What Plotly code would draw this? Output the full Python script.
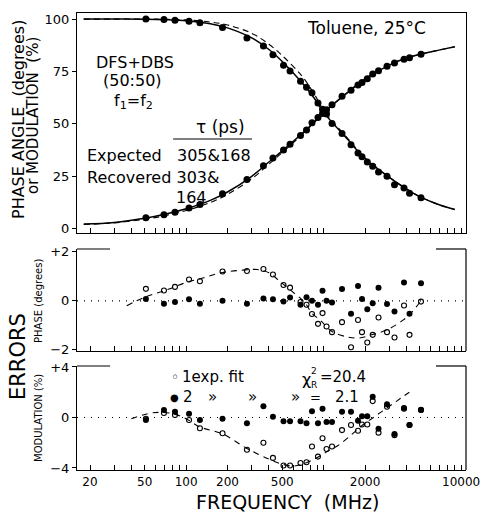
import plotly.graph_objects as go

# ---------------- data ----------------
FREQ = [51, 69, 83, 105, 126, 184, 277, 365, 428, 511, 570, 679, 751, 823, 910,
        982, 1050, 1151, 1361, 1582, 1779, 1902, 2078, 2275, 2508, 2891, 3278,
        3843, 4214, 5108]
PHASE = [5.2, 6.6, 7.9, 9.9, 11.6, 16.7, 23.5, 30.0, 33.7, 37.6, 40.3, 44.5, 47.1,
         50.5, 53.0, 55.0, 56.8, 59.1, 63.2, 66.0, 68.5, 69.8, 71.5, 73.8, 75.4,
         77.5, 79.0, 80.8, 81.5, 83.2]
MODUL = [100.0, 99.8, 99.5, 99.0, 98.3, 96.0, 91.0, 87.1, 83.0, 78.0, 75.2, 70.3,
         67.5, 64.8, 60.0, 57.0, 54.7, 50.2, 45.4, 40.1, 36.1, 34.3, 31.8, 29.8,
         27.0, 25.0, 21.0, 19.4, 16.9, 14.8]

CURVE_F = [18, 30, 50, 70, 100, 150, 200, 300, 400, 500, 700, 850, 1000, 1500,
           2000, 3000, 4000, 5000, 7000, 9000]
PHASE_FIT2 = [2.2, 3.0, 5.0, 6.9, 9.5, 13.5, 17.5, 25.0, 31.8, 37.1, 45.5, 50.8,
              55.3, 65.0, 71.3, 78.0, 81.4, 83.2, 85.3, 86.8]
PHASE_FIT1 = [2.0, 2.8, 4.5, 6.2, 8.7, 12.5, 16.4, 23.8, 30.8, 36.3, 45.0, 50.5,
              55.3, 65.2, 71.5, 78.2, 81.5, 83.2, 85.3, 86.8]
MOD_FIT2 = [100, 100, 99.9, 99.7, 99.2, 97.8, 95.8, 91.0, 85.5, 79.8, 69.5, 62.5,
            55.5, 42.5, 33.5, 24.5, 19.0, 15.3, 11.3, 9.2]
MOD_FIT1 = [100, 100, 100, 99.9, 99.6, 98.6, 97.2, 93.2, 88.0, 82.6, 72.6, 64.5,
            56.5, 43.0, 33.8, 24.6, 19.0, 15.3, 11.3, 9.2]

PH_ERR1 = [0.49, 0.42, 0.57, 0.87, 0.80, 1.20, 1.22, 1.30, 1.08, 0.65, 0.54, -0.05,
           -0.16, -0.54, -0.94, -0.50, -1.05, -1.28, -0.87, -1.90, -0.78, -1.28,
           -1.70, -1.39, -0.68, -1.28, -1.50, -0.19, -1.39, -0.03]
PH_ERR2 = [0.08, -0.12, -0.05, 0.07, -0.12, 0.0, -0.12, 0.10, 0.07, -0.03, 0.14,
           -0.16, 0.15, 0.0, -0.16, 0.41, 0.0, -0.07, 0.48, -0.53, 0.61, 0.08,
           -0.34, -0.10, 0.54, -0.13, -0.44, 0.75, -0.53, 0.72]
MOD_ERR1 = [-0.1, 0.35, 0.2, -0.2, -0.85, -1.25, -2.55, -2.0, -3.2, -3.8, -3.8,
            -3.6, -3.55, -2.3, -3.1, -1.65, -2.5, -2.3, -1.0, -0.6, -1.05, -0.55,
            -0.55, 1.3, -1.2, 0.85, -1.4, 0.7, -0.6, 0.6]
MOD_ERR2 = [-0.2, 0.6, 0.45, 0.3, -0.2, -0.1, -0.45, 0.9, 0.05, -0.3, -0.3, -0.3,
            -0.45, 0.5, -0.45, 0.7, -0.35, -0.35, 0.45, 0.45, -0.25, 0.1, 0.1,
            1.65, -0.9, 1.05, -1.3, 0.75, -0.6, 0.6]

PH_TREND_F = [37, 50, 70, 100, 130, 180, 250, 330, 400, 480, 570, 680, 750, 820,
              950, 1150, 1500, 1800, 2200, 2900, 3800, 4400, 5100]
PH_TREND = [-0.2, 0.15, 0.42, 0.75, 0.92, 1.15, 1.25, 1.28, 1.15, 0.8, 0.45, 0.1,
            -0.16, -0.5, -0.8, -1.25, -1.48, -1.52, -1.4, -1.18, -0.78, -0.45, 0.0]
MOD_TREND_F = [40, 55, 65, 80, 100, 126, 184, 277, 400, 500, 600, 700, 800, 940,
               1100, 1280, 1600, 1900, 2300, 2800, 3400, 4200]
MOD_TREND = [-0.1, 0.35, 0.4, 0.3, -0.1, -0.75, -1.3, -2.45, -3.3, -3.7, -3.85,
             -3.7, -3.45, -3.05, -2.6, -2.2, -1.35, -0.65, 0.0, 0.65, 1.3, 2.0]

X_TICKS = [20, 30, 40, 50, 60, 70, 80, 90, 100, 200, 300, 400, 500, 600, 700, 800,
           900, 1000, 2000, 3000, 4000, 5000, 6000, 7000, 8000, 9000, 10000]
X_LABELED = {20: "20", 50: "50", 100: "100", 200: "200", 500: "500",
             2000: "2000", 10000: "10000"}

FONT = "DejaVu Sans"
BLACK = "black"

fig = go.Figure()

# --- top panel ---
for yvals in (PHASE_FIT2, MOD_FIT2):
    fig.add_trace(go.Scatter(x=CURVE_F, y=yvals, mode="lines", line_shape="spline",
                             line=dict(color=BLACK, width=1.5), xaxis="x", yaxis="y"))
for yvals in (PHASE_FIT1, MOD_FIT1):
    fig.add_trace(go.Scatter(x=CURVE_F, y=yvals, mode="lines", line_shape="spline",
                             line=dict(color=BLACK, width=1.1, dash="6px,4px"),
                             xaxis="x", yaxis="y"))
for yvals in (PHASE, MODUL):
    fig.add_trace(go.Scatter(x=FREQ, y=yvals, mode="markers",
                             marker=dict(color=BLACK, size=7), xaxis="x", yaxis="y"))

# --- middle panel (phase errors) ---
fig.add_trace(go.Scatter(x=PH_TREND_F, y=PH_TREND, mode="lines", line_shape="spline",
                         line=dict(color=BLACK, width=1.1, dash="6px,5px"),
                         xaxis="x2", yaxis="y2"))
fig.add_trace(go.Scatter(x=FREQ, y=PH_ERR1, mode="markers",
                         marker=dict(symbol="circle-open", color=BLACK, size=5,
                                     line=dict(width=1.1)),
                         xaxis="x2", yaxis="y2"))
fig.add_trace(go.Scatter(x=FREQ, y=PH_ERR2, mode="markers",
                         marker=dict(color=BLACK, size=6), xaxis="x2", yaxis="y2"))

# --- bottom panel (modulation errors) ---
fig.add_trace(go.Scatter(x=MOD_TREND_F, y=MOD_TREND, mode="lines", line_shape="spline",
                         line=dict(color=BLACK, width=1.1, dash="6px,5px"),
                         xaxis="x3", yaxis="y3"))
fig.add_trace(go.Scatter(x=FREQ, y=MOD_ERR1, mode="markers",
                         marker=dict(symbol="circle-open", color=BLACK, size=5,
                                     line=dict(width=1.1)),
                         xaxis="x3", yaxis="y3"))
fig.add_trace(go.Scatter(x=FREQ, y=MOD_ERR2, mode="markers",
                         marker=dict(color=BLACK, size=6), xaxis="x3", yaxis="y3"))

XR = [1.2065, 4.0355]
def xaxis(anchor, labels, mirror):
    return dict(type="log", range=XR, anchor=anchor, showline=True, linecolor=BLACK,
                linewidth=1.2, mirror=mirror, ticks="inside", ticklen=5,
                tickcolor=BLACK, tickvals=X_TICKS, automargin=False,
                ticktext=[X_LABELED.get(v, "") for v in X_TICKS],
                showticklabels=labels, showgrid=False, zeroline=False,
                ticklabeloverflow="allow",
                tickfont=dict(family=FONT, size=12, color=BLACK))

def yaxis(anchor, domain, rng, vals, text, mirror):
    return dict(domain=domain, range=rng, anchor=anchor, showline=True, linecolor=BLACK,
                linewidth=1.2, mirror=mirror, ticks="outside", ticklen=4,
                tickcolor=BLACK, tickvals=vals, ticktext=text, showgrid=False,
                zeroline=False, automargin=False,
                tickfont=dict(family=FONT, size=13, color=BLACK))

TOP_D = [0.5186, 1.0]
MID_D = [0.2604, 0.4836]
BOT_D = [0.0, 0.2276]

fig.update_layout(
    template="none",
    width=480, height=515, showlegend=False,
    margin=dict(l=77, r=14, t=13, b=45, pad=0),
    paper_bgcolor="white", plot_bgcolor="white",
    font=dict(family=FONT, color=BLACK),
    xaxis=xaxis("y", False, True),
    xaxis2=xaxis("y2", False, False),
    xaxis3=xaxis("y3", True, False),
    yaxis=yaxis("x", TOP_D, [-2.05, 102.9], [0, 25, 50, 75, 100],
                ["0", "25", "50", "75", "100"], True),
    yaxis2=yaxis("x2", MID_D, [-2.05, 2.12], [-2, 0, 2], ["\u22122", "0", "+2"], False),
    yaxis3=yaxis("x3", BOT_D, [-4.16, 4.08], [-4, 0, 4], ["\u22124", "0", "+4"], False),
)

shapes = []
# right borders, top stubs and dotted zero lines of the error panels
for yr, d in (("y2", MID_D), ("y3", BOT_D)):
    shapes.append(dict(type="line", xref="paper", yref="paper", x0=1, x1=1,
                       y0=d[0], y1=d[1], line=dict(color=BLACK, width=1.2)))
    shapes.append(dict(type="line", xref="paper", yref="paper", x0=0, x1=0.085,
                       y0=d[1], y1=d[1], line=dict(color=BLACK, width=1.2)))
    shapes.append(dict(type="line", xref="paper", yref="paper", x0=0.923, x1=1,
                       y0=d[1], y1=d[1], line=dict(color=BLACK, width=1.2)))
    shapes.append(dict(type="line", xref=yr.replace("y", "x") + " domain", yref=yr,
                       x0=0, x1=1, y0=0, y1=0,
                       line=dict(color=BLACK, width=1.2, dash="1px,6px")))
# rule under tau (ps)
shapes.append(dict(type="line", xref="paper", yref="paper", x0=0.247, x1=0.450,
                   y0=0.7243, y1=0.7243, line=dict(color=BLACK, width=1.2)))
fig.update_layout(shapes=shapes)

def px(x):
    return (x - 77) / 389.0

def py(y):
    return (470 - y) / 457.0

def note(text, x, y, size=17, xanchor="center", angle=0):
    fig.add_annotation(text=text, xref="paper", yref="paper", x=px(x), y=py(y),
                       showarrow=False, xanchor=xanchor, yanchor="middle",
                       textangle=angle, borderpad=0,
                       font=dict(family=FONT, size=size, color=BLACK))

note("Toluene, 25°C", 366, 28)
note("DFS+DBS", 135, 62, size=16)
note("(50:50)", 132, 81, size=16)
note("f<sub>1</sub>=f<sub>2</sub>", 133, 102, size=16)
note("\u03c4 (ps)", 220, 127)
note("Expected", 86, 155, xanchor="left", size=16)
note("305&168", 176, 155, xanchor="left", size=16)
note("Recovered 303&", 86, 177, xanchor="left", size=16)
note("164", 191, 197, size=16)

note("PHASE ANGLE  (degrees)", 18, 120, size=16, angle=-90)
note("or MODULATION  (%)", 33, 116, size=15, angle=-90)
note("ERRORS", 18, 357, size=21, angle=-90)
note("PHASE (degrees)", 38, 301, size=10, angle=-90)
note("MODULATION (%)", 38, 418, size=10, angle=-90)
note("FREQUENCY  (MHz)", 287, 502, size=19)

# legend text of the bottom panel
note("\u25e6", 175, 377, size=14)
note("1exp. fit", 181, 377, size=15, xanchor="left")
note("\u03c7", 306, 379, size=16)
note("2", 314, 371, size=9)
note("R", 314, 385, size=9)
note("=20.4", 319, 377, size=15, xanchor="left")
note("\u25cf", 174, 397, size=10)
note("2", 188, 397, size=15)
note("\u00bb", 212, 397, size=15)
note("\u00bb", 252, 397, size=15)
note("\u00bb", 295, 397, size=15)
note("=", 315, 397, size=13)
note("2.1", 347, 397, size=15)

fig.write_html("out.html", post_script="document.body.style.margin='0';",
               config={"displayModeBar": False})
